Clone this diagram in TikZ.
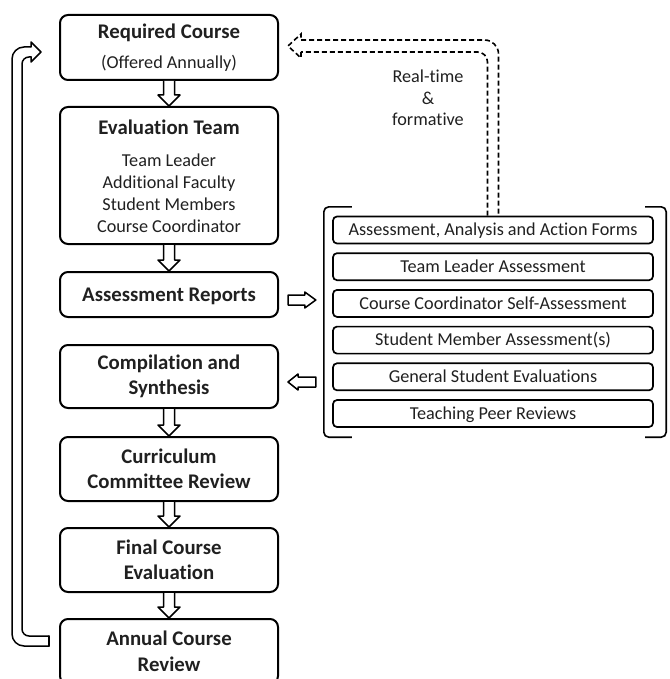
\documentclass[tikz,border=0pt]{standalone}
\usepackage{fontspec}
\setmainfont{Carlito}[Ligatures={NoCommon}]
\usetikzlibrary{calc}
\definecolor{txt}{HTML}{202020}
\newcommand\titlef{\fontsize{20.8}{25.5}\selectfont\bfseries}
\newcommand\bodyf{\fontsize{18.2}{21.7}\selectfont}
\tikzset{
 lbox/.style={draw=black, line width=2pt, rounded corners=8pt, minimum width=218pt, inner sep=0pt, align=center, text=txt, font=\titlef},
 rbox/.style={draw=black, line width=1.7pt, rounded corners=4pt, minimum width=320pt, minimum height=27pt, inner sep=0pt, text=txt, font=\bodyf, text height=11.7pt, text depth=0pt},
 blk/.style={draw=black, line width=1.5pt, fill=white, line join=round},
 bline/.style={draw=black, line width=1.5pt, line join=round, line cap=round},
 dblk/.style={draw=black, line width=1.6pt, dash pattern=on 5pt off 3pt},
 brk/.style={draw=black, line width=1.6pt, rounded corners=5pt},
 lbl/.style={text=txt, font=\bodyf, inner sep=0pt, align=center}
}
\newcommand\downblk[2]{%
  \draw[blk] ($(#1.south)+(-5.5,0)$) -- ($(#2.north)+(-5.5,-11)$) -- ($(#2.north)+(-11,-11)$) -- (#2.north) -- ($(#2.north)+(11,-11)$) -- ($(#2.north)+(5.5,-11)$) -- ($(#1.south)+(5.5,0)$);}
\begin{document}
\begin{tikzpicture}[x=1pt,y=-1pt]
\useasboundingbox (0,0) rectangle (669,679);
% left column
\node[lbox, minimum height=65pt] (req) at (169,47.5) {};
\node[lbl, font=\titlef, anchor=base] (reqT) at (169,39) {Required Course};
\node[lbl, anchor=base] (reqS) at (169,68.5) {(Offered Annually)};
\node[lbox, minimum height=137pt] (eval) at (169,175.5) {};
\node[lbl, font=\titlef, anchor=base] (evT) at (169,135) {Evaluation Team};
\node[lbl, anchor=base] (ev1) at (169,167) {Team Leader};
\node[lbl, anchor=base] (ev2) at (169,188.5) {Additional Faculty};
\node[lbl, anchor=base] (ev3) at (169,210) {Student Members};
\node[lbl, anchor=base] (ev4) at (169,232) {Course Coordinator};
\node[lbox, minimum height=45pt, text height=13.4pt, text depth=0pt] (ar) at (169,294.5) {Assessment Reports};
\node[lbox, minimum height=63pt] (comp) at (169,376.5) {Compilation and\\Synthesis};
\node[lbox, minimum height=64pt] (curr) at (169,469) {Curriculum\\Committee Review};
\node[lbox, minimum height=64pt] (final) at (169,560) {Final Course\\Evaluation};
\node[lbox, minimum height=65pt] (annual) at (169,651.5) {Annual Course\\Review};
% down arrows
\downblk{req}{eval}
\downblk{eval}{ar}
\downblk{comp}{curr}
\downblk{curr}{final}
\downblk{final}{annual}
% right panel
\node[inner sep=0pt, minimum width=342pt, minimum height=230pt] (panel) at (495,322) {};
\node[rbox] (rb1) at (493,230) {Assessment, Analysis and Action Forms};
\node[rbox] (rb2) at (493,266.7) {Team Leader Assessment};
\node[rbox] (rb3) at (493,303.4) {Course Coordinator Self-Assessment};
\node[rbox] (rb4) at (493,340.1) {Student Member Assessment(s)};
\node[rbox] (rb5) at (493,376.8) {General Student Evaluations};
\node[rbox] (rb6) at (493,413.5) {Teaching Peer Reviews};
\draw[brk] ($(panel.north west)+(28,0)$) -- (panel.north west) -- (panel.south west) -- ($(panel.south west)+(28,0)$);
\draw[brk] ($(panel.north east)+(-21,0)$) -- (panel.north east) -- (panel.south east) -- ($(panel.south east)+(-21,0)$);
% arrow AR -> panel
\coordinate (a1) at ($(ar.east)+(9,5.5)$);
\coordinate (a1t) at ($(panel.west |- a1)+(-8,0)$);
\draw[blk] ($(a1)+(0,-5)$) -- ($(a1t)+(-11,-5)$) -- ($(a1t)+(-11,-8)$) -- (a1t) -- ($(a1t)+(-11,8)$) -- ($(a1t)+(-11,5)$) -- ($(a1)+(0,5)$) -- cycle;
% arrow panel -> comp
\coordinate (a2t) at ($(comp.east)+(9,5.5)$);
\coordinate (a2) at ($(panel.west |- a2t)+(-8,0)$);
\draw[blk] ($(a2)+(0,-5)$) -- ($(a2t)+(10,-5)$) -- ($(a2t)+(10,-8)$) -- (a2t) -- ($(a2t)+(10,8)$) -- ($(a2t)+(10,5)$) -- ($(a2)+(0,5)$) -- cycle;
% dashed feedback
\coordinate (dt) at ($(req.east)+(9,-1.5)$);
\coordinate (dbase) at (rb1.north);
\draw[dblk, rounded corners=10pt] ($(dbase)+(-5.5,0)$) -- ($(dbase |- dt)+(-5.5,6)$) -- ($(dt)+(13,6)$);
\draw[dblk] ($(dt)+(13,6)$) -- ($(dt)+(13,12)$) -- (dt) -- ($(dt)+(13,-12)$) -- ($(dt)+(13,-6)$);
\draw[dblk, rounded corners=14pt] ($(dt)+(13,-6)$) -- ($(dbase |- dt)+(5.5,-6)$) -- ($(dbase)+(5.5,0)$);
\node[lbl] (rt) at (428,98) {Real-time\\\&\\formative};
% left feedback
\coordinate (fb) at ($(annual.north west)+(-10,23)$);
\coordinate (ft) at ($(req.west)+(-18,4.5)$);
\draw[bline, rounded corners=7pt] ($(fb)+(0,-5)$) -- ($(fb -| ft)+(-19,-5)$) -- ($(ft)+(-19,5)$) -- ($(ft)+(-10,5)$);
\draw[bline] ($(ft)+(-10,5)$) -- ($(ft)+(-10,10)$) -- (ft) -- ($(ft)+(-10,-10)$) -- ($(ft)+(-10,-5)$);
\draw[bline, rounded corners=12pt] ($(ft)+(-10,-5)$) -- ($(ft)+(-29,-5)$) -- ($(fb -| ft)+(-29,5)$) -- ($(fb)+(0,5)$);
\draw[bline] ($(fb)+(0,5)$) -- ($(fb)+(0,-5)$);
\end{tikzpicture}
\end{document}
